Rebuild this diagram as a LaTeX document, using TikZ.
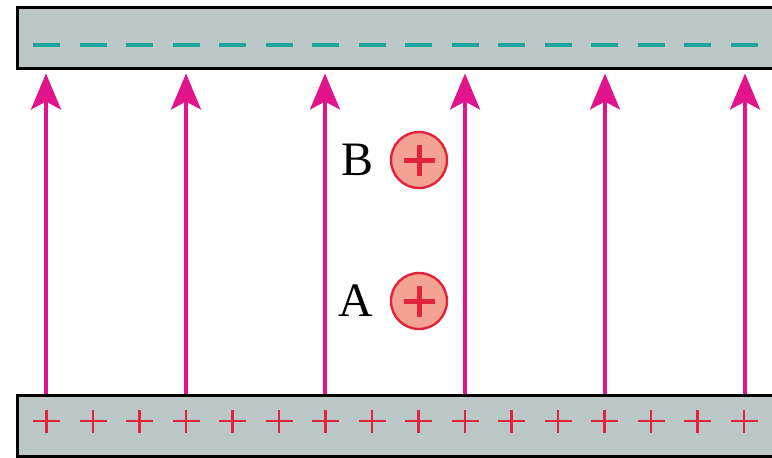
\documentclass[tikz,border=0pt]{standalone}
\usepackage{fontspec}
\setmainfont{Liberation Serif}
\usetikzlibrary{positioning}
\usetikzlibrary{arrows.meta}
\definecolor{platefill}{RGB}{188,200,200}
\definecolor{fieldpink}{RGB}{226,20,140}
\definecolor{minusteal}{RGB}{30,165,155}
\definecolor{plusred}{RGB}{225,35,60}
\definecolor{chargefill}{RGB}{244,162,146}

\begin{document}
\begin{tikzpicture}[
        x=0.5pt, y=-0.5pt,
        plate/.style={rectangle, draw=black, fill=platefill, line width=1.5pt, minimum width=382pt, minimum height=30.5pt, anchor=north west, inner sep=0pt},
        field/.style={-{Stealth[length=18pt, width=15pt, inset=4pt]}, draw=fieldpink, fill=fieldpink, line width=2pt},
        minus/.style={draw=minusteal, line width=1.7pt},
        plus/.style={draw=plusred, line width=1.4pt},
        charge/.style={circle, draw=plusred, fill=chargefill, line width=1.2pt, minimum size=28pt, inner sep=0pt},
        chargeplus/.style={draw=plusred, line width=2.5pt},
        letter/.style={inner sep=0pt, font=\fontsize{24}{27}\selectfont}
        ]

        \useasboundingbox (0,0) rectangle (772,457);
        \clip (0,0) rectangle (772,457);

        % Plates
        \node[plate] (top) at (16,5.5) {};
        \node[plate] (bot) at (16,394) {};

        % Charges on the plates
        \foreach \i in {0,...,15} {
            \draw[minus] (33+46.5*\i,45) -- ++(27,0);
            \draw[plus] (33+46.5*\i,421) -- ++(27,0);
            \draw[plus] (46.5+46.5*\i,409.5) -- ++(0,23);
        }

        % Field lines
        \foreach \x in {46,186,325,465,605,745}
            \draw[field] (\x,0 |- bot.north) -- ([yshift=-2pt]\x,0 |- top.south);

        % Test charges
        \node[charge] (qB) at (419,160) {};
        \node[charge] (qA) at (419,301) {};
        \draw[chargeplus] (qB.center) +(-15.5,0) -- +(15.5,0) +(0,-15.5) -- +(0,15.5);
        \draw[chargeplus] (qA.center) +(-15.5,0) -- +(15.5,0) +(0,-15.5) -- +(0,15.5);
        \node[letter, left=8pt of qB] (labelB) {B};
        \node[letter, left=8pt of qA] (labelA) {A};

    \end{tikzpicture}
\end{document}
